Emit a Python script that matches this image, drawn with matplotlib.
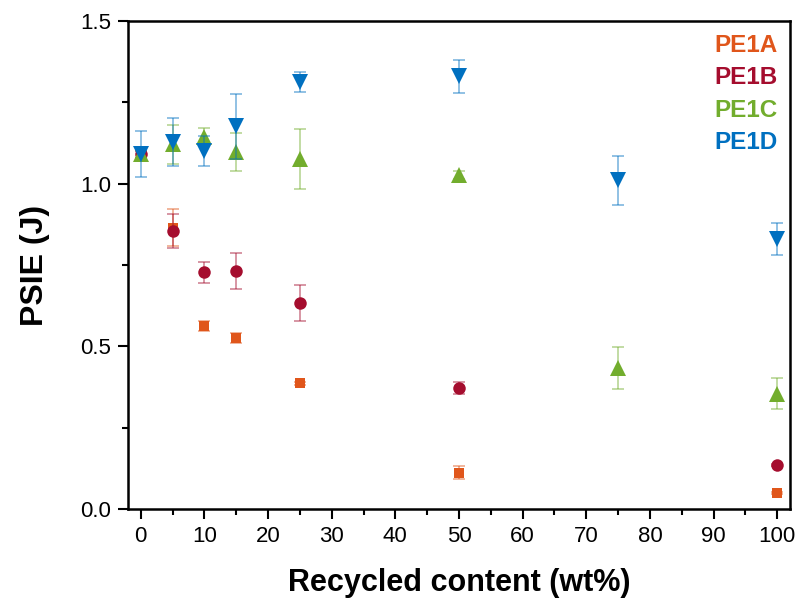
import matplotlib
matplotlib.use("Agg")
import matplotlib.pyplot as plt
from matplotlib.colors import to_rgba
from matplotlib.ticker import MultipleLocator

plt.rcParams['font.family'] = ['Liberation Sans', 'DejaVu Sans']

names = ["PE1A", "PE1B", "PE1C", "PE1D"]
colors = ["#E0561B", "#A50D2E", "#72AD2D", "#0070C0"]
markers = ["s", "o", "^", "v"]
msizes = [7.2, 9.0, 11.2, 11.2]

x_A = [0, 5, 10, 15, 25, 50, 100]
y_A = [1.09, 0.865, 0.562, 0.525, 0.386, 0.112, 0.049]
e_A = [0.01, 0.057, 0.015, 0.015, 0.004, 0.02, 0.003]

x_B = [0, 5, 10, 15, 25, 50, 100]
y_B = [1.09, 0.855, 0.727, 0.731, 0.634, 0.372, 0.135]
e_B = [0.01, 0.053, 0.033, 0.056, 0.055, 0.019, 0.003]

x_C = [0, 5, 10, 15, 25, 50, 75, 100]
y_C = [1.09, 1.121, 1.145, 1.097, 1.077, 1.027, 0.434, 0.355]
e_C = [0.015, 0.059, 0.026, 0.058, 0.092, 0.012, 0.065, 0.048]

x_D = [0, 5, 10, 15, 25, 50, 75, 100]
y_D = [1.091, 1.128, 1.100, 1.177, 1.313, 1.330, 1.010, 0.830]
e_D = [0.071, 0.074, 0.047, 0.100, 0.031, 0.050, 0.075, 0.050]

series = [(x_A, y_A, e_A), (x_B, y_B, e_B), (x_C, y_C, e_C), (x_D, y_D, e_D)]

fig = plt.figure(figsize=(7.95, 6.07), dpi=100)
ax = fig.add_axes([0.161, 0.1614, 0.8327, 0.804])

for (xs, ys, es), c, m, ms in zip(series, colors, markers, msizes):
    ecol = to_rgba(c, 0.55)
    ax.errorbar(xs, ys, yerr=es, fmt='none', ecolor=ecol, elinewidth=1.1,
                capsize=4.5, capthick=1.1)
    ax.plot(xs, ys, linestyle='none', marker=m, color=c, markersize=ms,
            markeredgewidth=0)

ax.set_xlim(-2, 102)
ax.set_ylim(0, 1.5)
ax.xaxis.set_major_locator(MultipleLocator(10))
ax.xaxis.set_minor_locator(MultipleLocator(5))
ax.yaxis.set_major_locator(MultipleLocator(0.5))
ax.yaxis.set_minor_locator(MultipleLocator(0.25))
ax.yaxis.set_major_formatter(matplotlib.ticker.FormatStrFormatter('%.1f'))

ax.tick_params(which='both', direction='out', width=1.5, top=False, right=False)
ax.tick_params(which='major', length=7, labelsize=16, pad=5)
ax.tick_params(which='minor', length=4)
for s in ax.spines.values():
    s.set_linewidth(1.8)

ax.set_xlabel("Recycled content (wt%)", fontsize=22, fontweight='bold', labelpad=15)
ax.set_ylabel("PSIE (J)", fontsize=23, fontweight='bold', labelpad=22)

for i, (n, c) in enumerate(zip(names, colors)):
    ax.text(0.982, 0.950 - i * 0.0662, n, color=c, fontsize=17.5, fontweight='bold',
            ha='right', va='center', transform=ax.transAxes)

fig.savefig("out.png", dpi=100)
